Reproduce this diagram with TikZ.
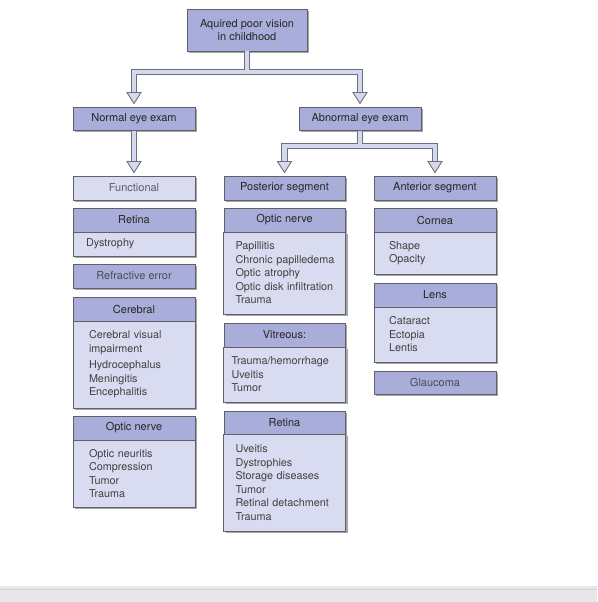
\documentclass[tikz,border=0pt]{standalone}
\usepackage{fontspec}
\setmainfont{TeX Gyre Heros}
\usetikzlibrary{positioning,shadows}
\definecolor{hdrfill}{HTML}{A9ADDA}
\definecolor{bdyfill}{HTML}{D9DCF0}
\definecolor{boxline}{HTML}{5F6068}
\definecolor{pipeline}{HTML}{6E7078}
\definecolor{pipefill}{HTML}{D6D9EE}
\definecolor{txtdark}{HTML}{262626}
\definecolor{txtbody}{HTML}{404040}
\definecolor{txtsoft}{HTML}{4C4C56}
\definecolor{txtlight}{HTML}{5C5C66}
\definecolor{bandfill}{HTML}{E7E8EC}
\definecolor{bandline}{HTML}{D2D3D8}
\begin{document}
\begin{tikzpicture}[x=1pt,y=-1pt]
	\tikzset{
		box/.style={draw=boxline, line width=0.8pt, minimum width=122pt, minimum height=24pt, inner sep=0pt, outer sep=0pt, drop shadow={shadow xshift=2pt, shadow yshift=-2pt, fill=black, opacity=0.35}},
		hdr/.style={box, fill=hdrfill, text=txtdark, font=\fontsize{11}{13}\selectfont},
		hdrsoft/.style={box, fill=hdrfill, text=txtsoft, font=\fontsize{11}{13}\selectfont},
		lone/.style={box, fill=bdyfill, text=txtlight, font=\fontsize{11}{13}\selectfont},
		bdy/.style={box, fill=bdyfill, text=txtbody, font=\fontsize{10.8}{13.5}\selectfont, align=left, inner xsep=#1, text width=122pt-2*#1},
		pipeout/.style={draw=pipeline, line width=6.6pt},
		pipein/.style={draw=pipefill, line width=4.6pt},
		pics/hollowhead/.style={code={\draw[draw=pipeline, fill=pipefill, line width=0.9pt] (-7,-14.5) -- (7,-14.5) -- (0,-3.5) -- cycle;}}
	}
	\useasboundingbox (0,0) rectangle (597,602);
	\fill[bandfill] (0,586) rectangle (597,602);
	\draw[bandline, line width=0.8pt] (0,589.3) -- (597,589.3);
	
	\node [hdr, minimum width=120pt, minimum height=42pt, align=center] (top) at (247,30) {Aquired poor vision\\in childhood};
	\node [hdr, minimum height=23pt] (normal) at (134,118.5) {Normal eye exam};
	\node [hdr, minimum height=23pt] (abnormal) at (360,118.5) {Abnormal eye exam};
	
	\node [lone] (functional) at (134,188) {Functional};
	\node [hdr, minimum width=121pt] (posterior) at (284.5,188) {Posterior segment};
	\node [hdr] (anterior) at (435,188) {Anterior segment};
	
	% normal exam column
	\node [hdr] (lretina) at (134,220) {Retina};
	\node [bdy=13pt, below=0pt of lretina] (lretinab) {Dystrophy};
	\node [hdrsoft] (refractive) at (134,276) {Refractive error};
	\node [hdr] (cerebral) at (134,309) {Cerebral};
	\node [bdy=16pt, minimum height=87pt, below=0pt of cerebral] (cerebralb) {Cerebral visual\\impairment\\[3pt]Hydrocephalus\\Meningitis\\Encephalitis};
	\node [hdr] (lnerve) at (134,428) {Optic nerve};
	\node [bdy=16pt, minimum height=67pt, below=0pt of lnerve] (lnerveb) {Optic neuritis\\Compression\\Tumor\\Trauma};
	
	% posterior segment column
	\node [hdr, minimum width=121pt] (mnerve) at (284.5,220) {Optic nerve};
	\node [bdy=12pt, minimum width=121pt, minimum height=82pt, below=0pt of mnerve] (mnerveb) {Papillitis\\\mbox{Chronic papilledema}\\Optic atrophy\\\mbox{Optic disk infiltration}\\Trauma};
	\node [hdr, minimum width=121pt] (vitreous) at (284.5,335) {Vitreous:};
	\node [bdy=8pt, minimum width=121pt, minimum height=55pt, below=0pt of vitreous] (vitreousb) {Trauma/hemorrhage\\Uveitis\\Tumor};
	\node [hdr, minimum width=121pt, minimum height=23pt] (mretina) at (284.5,422.5) {Retina};
	\node [bdy=12pt, minimum width=121pt, minimum height=97pt, below=0pt of mretina] (mretinab) {Uveitis\\Dystrophies\\\mbox{Storage diseases}\\Tumor\\\mbox{Retinal detachment}\\Trauma};
	
	% anterior segment column
	\node [hdr] (cornea) at (435,220) {Cornea};
	\node [bdy=15pt, minimum height=42pt, below=0pt of cornea] (corneab) {Shape\\Opacity};
	\node [hdr] (lens) at (435,295) {Lens};
	\node [bdy=15pt, minimum height=55pt, below=0pt of lens] (lensb) {Cataract\\Ectopia\\Lentis};
	\node [hdrsoft, minimum height=23pt] (glaucoma) at (435,382.5) {Glaucoma};
	
	% hollow arrows
	\foreach \layer in {pipeout,pipein} {
		\draw [\layer, shorten <=0.5pt, shorten >=14pt] (top.south) -- ++(0,21) -| (normal.north);
		\draw [\layer, shorten <=0.5pt, shorten >=14pt] (top.south) -- ++(0,21) -| (abnormal.north);
		\draw [\layer, shorten <=0.5pt, shorten >=14pt] (normal.south) -- (functional.north);
		\draw [\layer, shorten <=0.5pt, shorten >=14pt] (abnormal.south) -- ++(0,16) -| (posterior.north);
		\draw [\layer, shorten <=0.5pt, shorten >=14pt] (abnormal.south) -- ++(0,16) -| (anterior.north);
	}
	\pic at (normal.north) {hollowhead};
	\pic at (abnormal.north) {hollowhead};
	\pic at (functional.north) {hollowhead};
	\pic at (posterior.north) {hollowhead};
	\pic at (anterior.north) {hollowhead};
\end{tikzpicture}
\end{document}
